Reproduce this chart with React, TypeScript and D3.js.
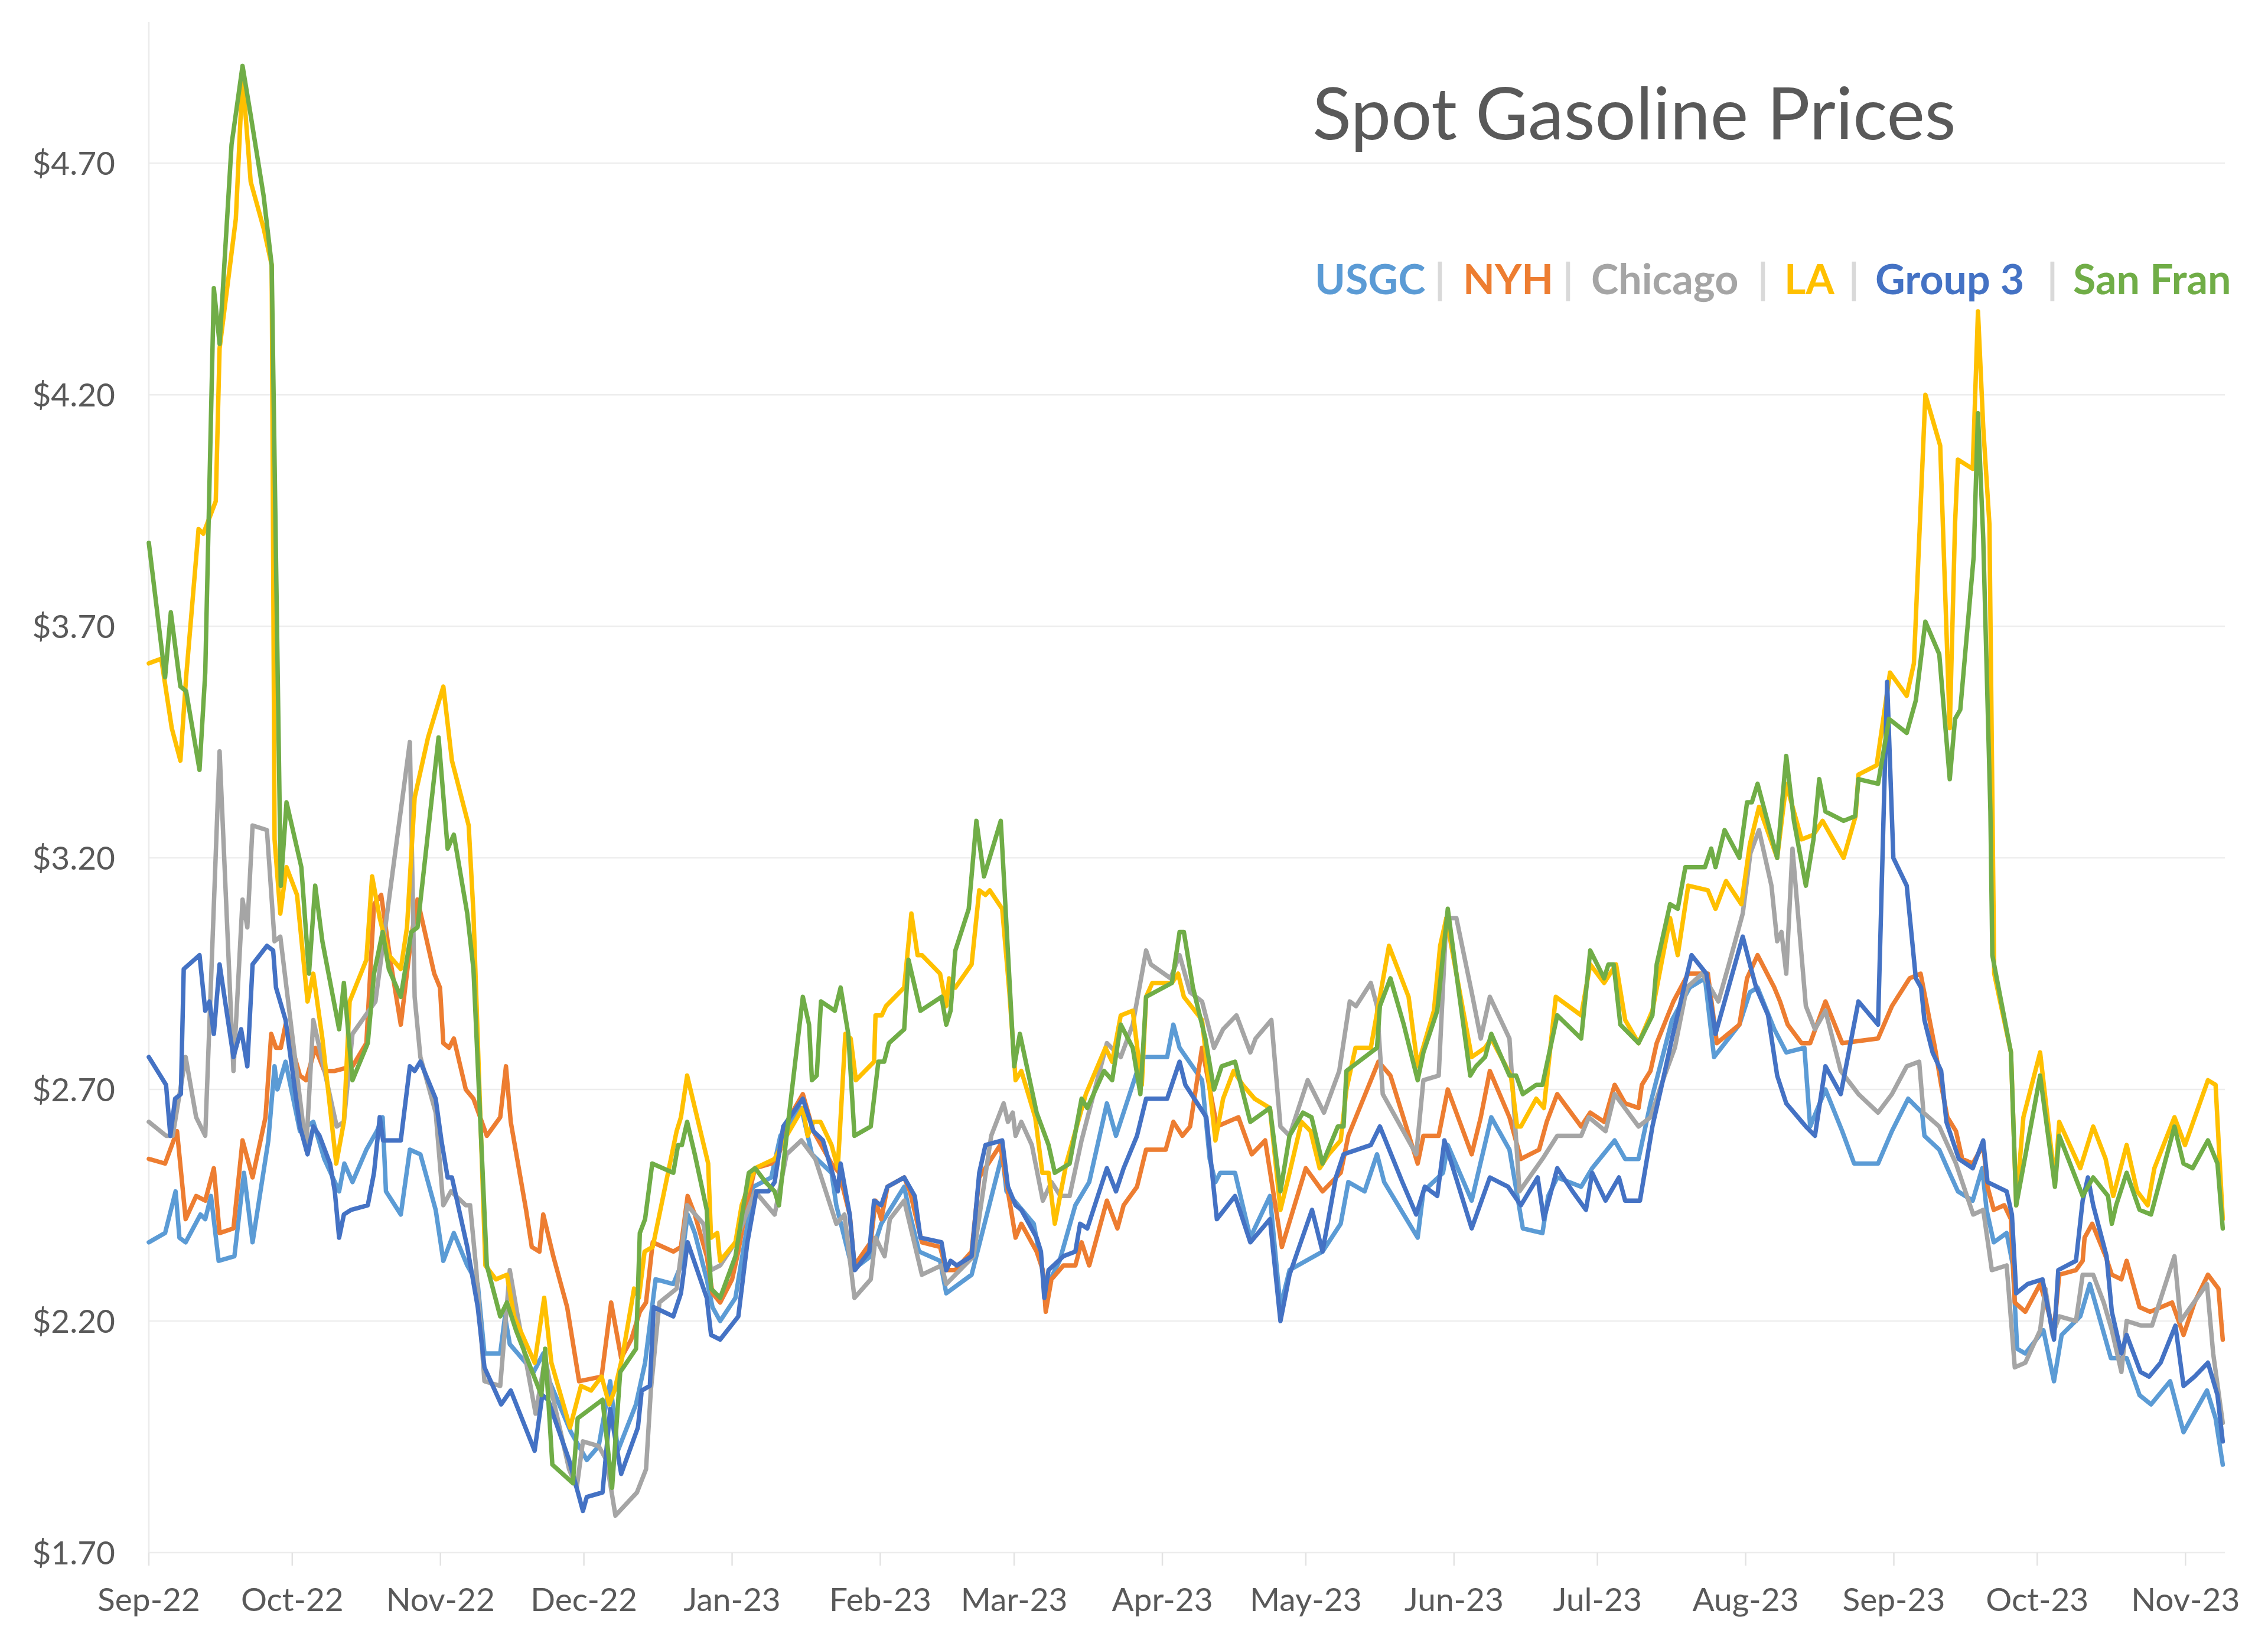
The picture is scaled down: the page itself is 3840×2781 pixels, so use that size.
import React from "react";
import * as d3 from "d3";

// ---------- data (day offset from 2022-09-01, price $/gal) ----------
const START_UTC = Date.UTC(2022, 8, 1);
const AXIS_END_DAY = 434; // 2023-11-09
const Y_MIN = 1.7;
const Y_MAX = 5.0;
const yTickValues = [1.7, 2.2, 2.7, 3.2, 3.7, 4.2, 4.7];
const titleText = "Spot Gasoline Prices";
const seriesNames = ["USGC", "NYH", "Chicago", "LA", "Group 3", "San Fran"];
const seriesColors = ["#5B9BD5", "#ED7D31", "#A5A5A5", "#FFC000", "#4472C4", "#70AD47"];

const USGC: [number, number][] = [
[0,2.37],[3.4,2.39],[5.6,2.48],[6.4,2.38],[7.7,2.37],[10.8,2.43],[11.8,2.42],[13,2.47],[14.6,2.33],[17.9,2.34],[19.9,2.52],[21.7,2.37],[25,2.59],[26.3,2.75],[26.9,2.7],[28.6,2.76],[31.6,2.61],[34.4,2.63],[36.7,2.55],[39.8,2.48],[40.9,2.54],[42.6,2.5],[45.5,2.57],[47.7,2.61],[48.9,2.64],[49.6,2.48],[52.7,2.43],[54.6,2.57],[56.8,2.56],[60,2.44],[61.6,2.33],[63.8,2.39],[66.6,2.32],[68.8,2.28],[70.2,2.13],[73.5,2.13],[74.5,2.21],[75.5,2.15],[80.5,2.09],[82.5,2.13],[83.8,2.07],[88.3,1.96],[91.6,1.9],[94.1,1.93],[96.5,2.07],[98.1,1.92],[101.9,2.02],[103.8,2.11],[106,2.29],[109.7,2.28],[111.3,2.32],[112.7,2.43],[114.2,2.39],[116.7,2.29],[117.9,2.23],[119.5,2.2],[122.7,2.25],[124.6,2.37],[126.5,2.49],[130.2,2.51],[132.1,2.6],[136.5,2.66],[138.7,2.56],[142.8,2.52],[143.8,2.45],[147.2,2.31],[151,2.34],[153.2,2.41],[158,2.49],[159.2,2.43],[161.1,2.35],[165.5,2.33],[166.8,2.26],[172.1,2.3],[178.5,2.56],[179.4,2.48],[185.1,2.41],[187.6,2.27],[190.5,2.33],[193.8,2.45],[196.7,2.5],[200.4,2.67],[202.3,2.6],[207.7,2.77],[213,2.77],[214.3,2.84],[215.6,2.79],[220.3,2.72],[221.9,2.55],[223.1,2.5],[224.1,2.52],[227.2,2.52],[230.4,2.38],[234.5,2.47],[236.7,2.23],[238.6,2.31],[245.5,2.35],[249.3,2.41],[250.9,2.5],[254.3,2.48],[256.9,2.56],[258.4,2.5],[265.4,2.38],[266.6,2.48],[270.7,2.52],[271.7,2.58],[276.7,2.46],[280.8,2.64],[284.6,2.57],[287.4,2.4],[291.5,2.39],[292.7,2.47],[294.6,2.51],[299.6,2.49],[301.9,2.53],[306.6,2.59],[308.8,2.55],[311.6,2.55],[314.1,2.67],[318.6,2.85],[322.3,2.92],[325.5,2.94],[327.4,2.77],[332.7,2.84],[334.9,2.91],[336.5,2.92],[340,2.83],[342.5,2.78],[346.3,2.79],[347.5,2.62],[350.7,2.7],[354.2,2.61],[356.7,2.54],[361.7,2.54],[364.6,2.61],[368,2.68],[370.9,2.65],[371.4,2.6],[374.5,2.57],[376.2,2.53],[378.4,2.48],[381.5,2.46],[383.5,2.53],[384.4,2.44],[385.9,2.37],[388.6,2.39],[389.9,2.32],[390.8,2.14],[392.5,2.13],[396.3,2.18],[398.5,2.07],[400.1,2.17],[404,2.21],[406,2.28],[410.4,2.12],[413.7,2.12],[416.4,2.04],[418.8,2.02],[422.8,2.07],[425.6,1.96],[430.5,2.05],[432.3,1.99],[433.8,1.89]
];

const NYH: [number, number][] = [
[0,2.55],[3.4,2.54],[5.9,2.61],[7.7,2.42],[9.9,2.47],[11.8,2.46],[13.6,2.53],[14.8,2.39],[17.7,2.4],[19.6,2.59],[21.7,2.51],[24.4,2.64],[25.6,2.82],[26.6,2.79],[27.6,2.79],[28.6,2.84],[31.6,2.73],[32.9,2.72],[34.8,2.79],[36.7,2.74],[38.9,2.74],[42.6,2.75],[45.5,2.8],[47.1,3.1],[48.6,3.12],[50.5,2.98],[52.7,2.84],[54.9,3.03],[56.2,3.11],[59.7,2.95],[60.9,2.92],[61.6,2.8],[62.8,2.79],[63.8,2.81],[66.3,2.7],[67.9,2.68],[70.7,2.6],[73.5,2.64],[74.7,2.75],[75.7,2.63],[78.9,2.44],[80.1,2.36],[81.7,2.35],[82.5,2.43],[84.6,2.34],[87.5,2.23],[90,2.07],[94.7,2.08],[96.7,2.24],[98.8,2.12],[100.9,2.16],[102.7,2.22],[104,2.24],[105.4,2.37],[109.7,2.35],[111.3,2.36],[112.7,2.47],[114.2,2.43],[116.7,2.34],[117.9,2.26],[119.5,2.24],[122,2.29],[123.3,2.35],[125.2,2.46],[126.8,2.53],[130.2,2.54],[131.8,2.56],[134,2.64],[136.8,2.69],[139,2.61],[142.8,2.54],[144.4,2.52],[146.6,2.43],[147.6,2.32],[151,2.37],[152,2.46],[153.2,2.42],[154.5,2.49],[158,2.51],[159.2,2.48],[161.7,2.37],[165.5,2.36],[166.8,2.31],[168.7,2.31],[172.1,2.35],[173.7,2.51],[178.1,2.58],[179.7,2.48],[181.3,2.38],[182.5,2.41],[185.7,2.35],[187,2.31],[187.6,2.22],[188.8,2.29],[191.3,2.32],[193.8,2.32],[195.1,2.37],[196.7,2.32],[200.4,2.46],[202.6,2.4],[203.9,2.45],[206.7,2.49],[208.6,2.57],[212.7,2.57],[214.3,2.63],[216.2,2.6],[217.8,2.62],[220.3,2.79],[223.4,2.62],[227.9,2.64],[230.7,2.56],[233.5,2.59],[237,2.36],[242,2.53],[245.5,2.48],[249.3,2.52],[250.9,2.6],[257.2,2.76],[259.7,2.73],[265.4,2.54],[266.6,2.6],[269.8,2.6],[271.7,2.7],[276.7,2.56],[278.6,2.64],[280.5,2.74],[284.6,2.64],[287,2.55],[290.8,2.57],[292.4,2.63],[294.6,2.69],[299.6,2.62],[301.5,2.65],[304.4,2.63],[306.6,2.71],[308.8,2.67],[311.6,2.66],[312.3,2.71],[314.1,2.74],[315.4,2.8],[318.9,2.89],[322,2.95],[326.1,2.95],[328,2.8],[332.7,2.84],[334.3,2.94],[336.5,2.99],[340,2.92],[341.2,2.89],[342.8,2.84],[345.7,2.8],[347.5,2.8],[350.7,2.89],[354.2,2.8],[361.7,2.81],[364.6,2.88],[368.3,2.94],[370.6,2.95],[373.6,2.79],[374.9,2.71],[376.2,2.64],[378,2.61],[379.3,2.55],[381.5,2.54],[383.7,2.58],[384.6,2.49],[385.9,2.44],[388.1,2.45],[389.5,2.42],[390.3,2.24],[392.5,2.22],[395.6,2.28],[398.5,2.18],[399.6,2.3],[403.1,2.31],[404.5,2.33],[404.9,2.38],[406.5,2.41],[409.3,2.34],[410.6,2.3],[412.6,2.29],[413.7,2.33],[416.4,2.23],[418.6,2.22],[423.2,2.24],[425.6,2.17],[427.9,2.24],[430.7,2.3],[432.9,2.27],[433.8,2.16]
];

const CHICAGO: [number, number][] = [
[0,2.63],[3.6,2.6],[5,2.6],[7.7,2.77],[9.9,2.64],[11.8,2.6],[14.8,3.43],[17.7,2.74],[19.6,3.11],[20.6,3.05],[21.7,3.27],[24.7,3.26],[26.3,3.02],[27.5,3.03],[32.9,2.57],[34.4,2.85],[39.3,2.62],[40.8,2.63],[42.6,2.82],[47.4,2.89],[54.6,3.45],[55.6,2.9],[56.8,2.77],[60,2.65],[61.6,2.45],[63.2,2.48],[66.3,2.45],[67.2,2.45],[68.5,2.31],[70.2,2.07],[73.5,2.06],[75.5,2.31],[77,2.22],[80.9,2.0],[82.9,2.12],[84.4,2.04],[87.9,1.88],[89.5,1.84],[90.8,1.94],[94.1,1.93],[95.7,1.9],[97.6,1.78],[102.1,1.83],[104,1.88],[105,2.05],[106.8,2.24],[110.4,2.27],[112.6,2.45],[116,2.41],[117.6,2.31],[119.5,2.32],[122.7,2.37],[126.8,2.48],[130.9,2.43],[133.4,2.56],[136.5,2.59],[139.4,2.55],[143.8,2.41],[145.5,2.43],[147.6,2.25],[151,2.29],[152,2.38],[153.9,2.34],[155,2.42],[158,2.46],[161.7,2.3],[165.8,2.32],[166.8,2.28],[172.5,2.34],[176.2,2.6],[178.8,2.67],[179.7,2.63],[180.7,2.65],[181.3,2.6],[182.5,2.63],[184.7,2.58],[187,2.46],[188.8,2.5],[190.7,2.47],[192.6,2.47],[195.1,2.59],[200.4,2.8],[203.3,2.77],[205.8,2.84],[208.6,3.0],[209.6,2.97],[213.7,2.94],[215.6,2.99],[217.8,2.91],[220.3,2.89],[222.8,2.79],[224.7,2.83],[227.5,2.86],[230.4,2.78],[231.5,2.81],[234.8,2.85],[236.7,2.62],[238.6,2.6],[242.4,2.72],[245.8,2.65],[249,2.74],[251.2,2.89],[252.5,2.88],[255.6,2.93],[256.9,2.88],[258.1,2.69],[265.1,2.56],[266.6,2.72],[269.8,2.73],[271.4,3.07],[273.5,3.07],[276.7,2.91],[278.6,2.81],[280.5,2.9],[284.6,2.81],[286.7,2.48],[291.5,2.55],[294.6,2.6],[299.6,2.6],[301.2,2.64],[304.7,2.61],[306.6,2.69],[311.6,2.62],[314.1,2.64],[316.7,2.72],[319.2,2.79],[321.7,2.92],[324.9,2.95],[328.3,2.89],[330.5,2.97],[333.4,3.08],[335,3.21],[336.8,3.26],[339.4,3.14],[340.6,3.02],[341.5,3.04],[342.5,2.95],[343.8,3.22],[346.6,2.88],[348.5,2.83],[350.7,2.87],[353.9,2.74],[357.6,2.69],[361.7,2.65],[364.6,2.69],[367.7,2.75],[370.3,2.76],[371.2,2.65],[374.5,2.62],[378,2.54],[381.6,2.43],[383.7,2.44],[385.5,2.31],[388.6,2.32],[390.3,2.1],[392.5,2.11],[395.6,2.18],[396.7,2.27],[398.2,2.17],[399.6,2.21],[403.1,2.2],[404.5,2.3],[406.7,2.3],[408.9,2.24],[410.6,2.18],[412.6,2.09],[413.7,2.2],[416.8,2.19],[419,2.19],[423.7,2.34],[425,2.2],[430.5,2.28],[431.8,2.13],[433.8,1.98]
];

const LA: [number, number][] = [
[0,3.62],[2.6,3.63],[4.8,3.48],[6.6,3.41],[7.8,3.59],[10.4,3.91],[11.4,3.9],[14,3.97],[14.8,4.3],[18.2,4.58],[19.6,4.89],[21.3,4.66],[24,4.56],[25.7,4.48],[26.3,3.24],[27.5,3.08],[28.8,3.18],[31,3.12],[33.2,2.89],[34.4,2.95],[36.3,2.81],[39.2,2.54],[40.8,2.63],[42,2.89],[45.5,2.98],[46.7,3.16],[48.3,3.07],[50.2,2.99],[52.7,2.96],[54,3.05],[55.6,3.33],[58.4,3.46],[61.6,3.57],[63.4,3.41],[66.9,3.27],[67.9,3.08],[70.4,2.32],[72.6,2.29],[74.9,2.3],[76.4,2.21],[80.7,2.11],[82.7,2.25],[84.2,2.11],[88.1,1.97],[90.4,2.06],[92.5,2.05],[94.7,2.08],[96.3,2.02],[97.4,2.05],[99,2.12],[101.5,2.27],[102.5,2.25],[103.7,2.35],[105.4,2.36],[110.4,2.61],[111.3,2.64],[112.6,2.73],[117,2.54],[117.6,2.38],[118.9,2.39],[119.5,2.33],[122.7,2.37],[124,2.45],[126.8,2.53],[130.9,2.55],[133.4,2.6],[136.8,2.66],[137.8,2.6],[139,2.63],[140.5,2.63],[142.8,2.58],[144.1,2.53],[145.7,2.82],[146.8,2.81],[147.9,2.72],[151.7,2.76],[152,2.86],[153.3,2.86],[154.2,2.88],[158,2.92],[159.5,3.08],[160.8,2.99],[161.7,2.99],[165.5,2.95],[166.8,2.88],[167.4,2.94],[168.7,2.92],[172.1,2.97],[173.7,3.13],[175,3.12],[175.9,3.13],[178.5,3.09],[180,2.91],[181.3,2.72],[182.5,2.74],[185.4,2.64],[186.9,2.52],[188.2,2.52],[189.5,2.41],[191.9,2.54],[196,2.69],[200.1,2.79],[201.5,2.76],[203.3,2.86],[205.8,2.87],[207.7,2.71],[208.6,2.9],[209.9,2.93],[214,2.93],[215.3,2.95],[216.5,2.9],[220.3,2.85],[223.1,2.59],[224.7,2.68],[226.9,2.74],[228.8,2.71],[231.3,2.68],[234.5,2.66],[236.7,2.44],[238.6,2.52],[241.1,2.63],[243,2.61],[244.9,2.53],[246.8,2.56],[249.3,2.59],[250.5,2.7],[252.4,2.79],[255.6,2.79],[259.4,3.01],[263.5,2.9],[265.4,2.75],[268.8,2.87],[270.1,3.01],[271.4,3.07],[273.5,2.95],[276.7,2.77],[279.5,2.79],[280.8,2.81],[284.9,2.73],[286.2,2.62],[287,2.62],[290.2,2.68],[291.8,2.66],[294.3,2.9],[299.6,2.86],[301.5,2.97],[304.4,2.93],[306.9,2.97],[308.8,2.85],[311.6,2.8],[314.5,2.87],[318.2,3.07],[319.8,2.99],[322,3.14],[326.1,3.13],[327.7,3.09],[329.9,3.15],[333.1,3.1],[334.9,3.23],[336.8,3.31],[340.6,3.2],[342.5,3.36],[345.7,3.24],[348.2,3.25],[350.1,3.28],[354.5,3.2],[357,3.29],[357.6,3.38],[361.4,3.4],[364.2,3.6],[367.7,3.55],[369.2,3.62],[371.6,4.2],[374.7,4.09],[376.7,3.48],[377.8,3.92],[378.4,4.06],[381.5,4.04],[382.6,4.38],[383.7,4.13],[385,3.92],[386,2.95],[389.5,2.78],[390.6,2.45],[392.1,2.64],[395.6,2.78],[398.7,2.5],[399.6,2.63],[404,2.53],[406.7,2.62],[409.3,2.55],[410.9,2.47],[413.7,2.58],[415.9,2.48],[418.1,2.45],[419.5,2.53],[423.7,2.64],[425.9,2.58],[430.7,2.72],[432.3,2.71],[433.8,2.42]
];

const GROUP3: [number, number][] = [
[0,2.77],[3.6,2.71],[4.5,2.6],[5.5,2.68],[6.7,2.69],[7.3,2.96],[10.6,2.99],[11.8,2.87],[12.7,2.89],[13.6,2.82],[14.8,2.97],[17.7,2.77],[19.3,2.83],[20.6,2.75],[21.7,2.97],[24.7,3.01],[26,3.0],[26.6,2.92],[28.6,2.85],[31.6,2.62],[33.2,2.56],[34.4,2.62],[35.7,2.6],[37.9,2.54],[38.9,2.48],[39.8,2.38],[40.8,2.43],[42.3,2.44],[45.8,2.45],[47.1,2.52],[48.3,2.64],[49,2.59],[52.7,2.59],[54.6,2.75],[55.6,2.74],[56.8,2.76],[60,2.68],[61.2,2.59],[62.5,2.51],[63.4,2.51],[66.6,2.36],[68.8,2.23],[70.2,2.1],[73.7,2.02],[75.7,2.05],[80.7,1.92],[82.3,2.04],[83.5,2.03],[87.9,1.9],[90.8,1.79],[91.6,1.82],[94.9,1.83],[96.5,2.01],[98.8,1.87],[102.3,1.97],[103.1,2.05],[104.8,2.06],[105.6,2.23],[109.7,2.21],[111.3,2.26],[112.7,2.37],[116.7,2.25],[117.6,2.17],[119.5,2.16],[123.3,2.21],[125.2,2.37],[127.1,2.48],[129.6,2.48],[130.9,2.5],[132.7,2.62],[136.8,2.68],[139,2.61],[141,2.59],[144.1,2.48],[144.7,2.54],[146.6,2.43],[147.7,2.31],[150.7,2.35],[151.7,2.46],[153.2,2.45],[154.5,2.49],[158,2.51],[160.2,2.47],[161.4,2.38],[165.8,2.37],[166.8,2.31],[167.7,2.33],[169,2.32],[172.1,2.34],[173.7,2.52],[175,2.58],[178.5,2.59],[179.7,2.49],[181.3,2.45],[182.5,2.44],[185.7,2.38],[186.6,2.35],[187.3,2.25],[188.2,2.31],[191.3,2.34],[193.8,2.35],[194.8,2.41],[196.3,2.4],[200.4,2.53],[202.3,2.48],[203.9,2.53],[206.7,2.6],[208.6,2.68],[213,2.68],[215.6,2.76],[216.8,2.71],[221.2,2.64],[223.4,2.42],[227.2,2.47],[230.4,2.37],[234.5,2.42],[236.7,2.2],[238.6,2.3],[243.3,2.44],[245.5,2.35],[248.3,2.51],[249.9,2.56],[255.6,2.58],[257.5,2.62],[262.2,2.5],[265.1,2.43],[266.9,2.49],[269.5,2.47],[271,2.59],[276.7,2.4],[280.5,2.51],[284.3,2.49],[287,2.45],[290.5,2.51],[291.8,2.42],[294.6,2.53],[297.8,2.48],[300.6,2.44],[301.9,2.52],[304.7,2.46],[307.5,2.51],[308.8,2.46],[311.9,2.46],[314.5,2.62],[316.7,2.72],[318.6,2.81],[322.7,2.99],[325.8,2.95],[327.7,2.82],[333.4,3.03],[334.9,2.97],[336.2,2.92],[338.7,2.86],[340.6,2.73],[342.5,2.67],[346.6,2.62],[348.5,2.6],[350.7,2.75],[353.9,2.69],[357.6,2.89],[361.7,2.84],[363.6,3.58],[364.9,3.2],[367.7,3.14],[369.6,2.94],[370.7,2.92],[371.4,2.85],[373.1,2.78],[374.9,2.74],[376,2.63],[378.6,2.55],[381.5,2.53],[383.7,2.59],[384.6,2.5],[388.6,2.48],[389.7,2.43],[390.6,2.26],[393,2.28],[396.1,2.29],[398.5,2.16],[399.4,2.31],[403.1,2.33],[404.5,2.46],[405.6,2.51],[406.7,2.45],[409.5,2.34],[410.6,2.22],[412.6,2.13],[413.7,2.17],[416.6,2.09],[418.4,2.08],[420.8,2.11],[423.9,2.19],[425.6,2.06],[427.9,2.08],[430.7,2.11],[432.7,2.04],[433.8,1.94]
];

const SAN_FRAN: [number, number][] = [
[0,3.88],[3.4,3.59],[4.6,3.73],[6.6,3.57],[7.8,3.56],[10.6,3.39],[11.8,3.6],[13.6,4.43],[14.8,4.31],[17.3,4.74],[19.6,4.91],[21.2,4.81],[24,4.63],[25.7,4.48],[27.6,3.14],[28.8,3.32],[31.9,3.18],[33.5,2.95],[34.8,3.14],[36.3,3.02],[39.8,2.83],[40.8,2.93],[42.6,2.72],[45.8,2.8],[47.1,2.95],[48.9,3.04],[50.2,2.96],[52.7,2.9],[54.9,3.04],[56.2,3.05],[60.6,3.46],[62.5,3.22],[63.8,3.25],[66.6,3.08],[67.9,2.96],[70.7,2.32],[73.5,2.21],[74.9,2.24],[76.8,2.18],[82.1,2.04],[82.9,2.14],[84.4,1.89],[88.7,1.85],[89.7,1.99],[94.9,2.03],[96.9,1.84],[98.6,2.09],[101.9,2.14],[102.7,2.39],[103.8,2.42],[105.3,2.54],[109.7,2.52],[110.7,2.58],[111.5,2.58],[112.6,2.63],[114.2,2.56],[116.7,2.44],[117.6,2.27],[119.5,2.25],[122.7,2.34],[125.5,2.52],[126.8,2.53],[129,2.5],[130.9,2.48],[131.8,2.45],[133.4,2.6],[136.8,2.9],[138.1,2.84],[138.7,2.72],[139.7,2.73],[140.6,2.89],[143.5,2.87],[144.7,2.92],[146.3,2.82],[147.6,2.6],[151,2.62],[152.6,2.76],[153.8,2.76],[154.8,2.8],[158,2.83],[158.9,2.98],[161.4,2.87],[165.8,2.9],[166.8,2.84],[167.7,2.87],[168.7,3.0],[171.5,3.09],[173.1,3.28],[174.7,3.16],[178.2,3.28],[181,2.75],[182.2,2.82],[185.7,2.65],[188.2,2.58],[189.5,2.52],[192.6,2.54],[195.1,2.68],[196.3,2.66],[199.8,2.74],[201.5,2.72],[203.3,2.84],[205.8,2.79],[207.4,2.69],[208.6,2.9],[214,2.93],[215.6,3.04],[216.5,3.04],[218.4,2.92],[221,2.81],[222.8,2.7],[224.4,2.75],[227.2,2.76],[230.4,2.63],[234.5,2.66],[236.7,2.48],[238.6,2.6],[241.4,2.65],[243.2,2.64],[245.5,2.54],[248.7,2.62],[249.9,2.62],[250.5,2.74],[256.9,2.79],[257.5,2.88],[259.7,2.94],[262.5,2.84],[265.4,2.72],[266.6,2.78],[269.5,2.87],[271.7,3.09],[273.5,2.95],[276.4,2.73],[277.6,2.75],[279.5,2.77],[280.8,2.82],[284.6,2.73],[286,2.73],[287.4,2.69],[290.2,2.71],[291.5,2.71],[294.6,2.86],[299.6,2.81],[301.5,3.0],[304.4,2.94],[305.3,2.97],[306.4,2.97],[307.8,2.84],[311.6,2.8],[314.5,2.86],[315.4,2.97],[318.2,3.1],[319.8,3.09],[321.4,3.18],[325.5,3.18],[326.8,3.22],[327.7,3.18],[329.6,3.26],[332.7,3.2],[334.3,3.32],[335.3,3.32],[336.5,3.36],[340.6,3.2],[342.5,3.42],[344.1,3.28],[346.6,3.14],[348.2,3.24],[349.4,3.37],[350.7,3.3],[354.5,3.28],[356.9,3.29],[357.6,3.37],[361.7,3.36],[364,3.5],[367.7,3.47],[369.6,3.54],[371.6,3.71],[374.5,3.64],[376.7,3.37],[377.8,3.5],[378.9,3.52],[381.7,3.85],[382.6,4.16],[383.7,3.89],[385.2,3.3],[385.6,2.99],[389.5,2.78],[390.6,2.45],[395.6,2.73],[398.7,2.49],[399.6,2.6],[404.5,2.47],[406.7,2.51],[409.8,2.47],[410.6,2.41],[411.5,2.45],[413.7,2.52],[416.4,2.44],[418.8,2.43],[423.7,2.62],[425.6,2.54],[427.5,2.53],[430.7,2.59],[432.7,2.54],[433.8,2.4]
];

const seriesData = [USGC, NYH, CHICAGO, LA, GROUP3, SAN_FRAN];

// ---------- layout ----------
const W = 3840;
const H = 2781;
const PLOT = { left: 252, right: 3765, top: 41, bottom: 2628, gridRight: 3767 };
const FONT = "Lato, 'Open Sans', 'DejaVu Sans', sans-serif";
const TEXT_GRAY = "#595959";
const LEGEND_X = [2226, 2477, 2694, 3021, 3175, 3510];
const LEGEND_SEP_X = [2438, 2655, 2985, 3139, 3475];

const DAY_MS = 86400000;
const dayToDate = (d: number) => new Date(START_UTC + d * DAY_MS);

export default function App() {
  const x = d3
    .scaleUtc()
    .domain([dayToDate(0), dayToDate(AXIS_END_DAY)])
    .range([PLOT.left, PLOT.right]);
  const y = d3.scaleLinear().domain([Y_MIN, Y_MAX]).range([PLOT.bottom, PLOT.top]);

  const line = d3
    .line<[number, number]>()
    .x((p) => x(dayToDate(p[0])))
    .y((p) => y(p[1]));

  const months = d3.utcMonth.range(dayToDate(0), new Date(dayToDate(AXIS_END_DAY).getTime() + 1));
  const fmtMonth = d3.utcFormat("%b-%y");

  return (
    <div style={{ position: "absolute", left: 0, top: 0, width: W, height: H, background: "#fff" }}>
      <svg width={W} height={H} viewBox={`0 0 ${W} ${H}`} style={{ display: "block" }}>
        <rect x={0} y={0} width={W} height={H} fill="#ffffff" />

        {/* horizontal gridlines */}
        {yTickValues.map((v) => (
          <line
            key={"g" + v}
            x1={PLOT.left}
            x2={PLOT.gridRight}
            y1={y(v)}
            y2={y(v)}
            stroke="#EDEDED"
            strokeWidth={2.5}
          />
        ))}

        {/* vertical axis line */}
        <line x1={PLOT.left} x2={PLOT.left} y1={PLOT.top - 4} y2={PLOT.bottom} stroke="#EBEBEB" strokeWidth={2.5} />

        {/* x-axis tick marks */}
        {months.map((m) => (
          <line
            key={"t" + m.getTime()}
            x1={x(m)}
            x2={x(m)}
            y1={PLOT.bottom}
            y2={PLOT.bottom + 22}
            stroke="#E3E3E3"
            strokeWidth={2.5}
          />
        ))}

        {/* y labels */}
        {yTickValues.map((v) => (
          <text
            key={"yl" + v}
            x={195}
            y={y(v)}
            dy="0.36em"
            textAnchor="end"
            fontFamily={FONT}
            fontSize={55}
            fill={TEXT_GRAY}
          >
            {"$" + v.toFixed(2)}
          </text>
        ))}

        {/* x labels */}
        {months.map((m) => (
          <text
            key={"xl" + m.getTime()}
            x={x(m)}
            y={2727}
            textAnchor="middle"
            fontFamily={FONT}
            fontSize={55}
            fill={TEXT_GRAY}
          >
            {fmtMonth(m)}
          </text>
        ))}

        {/* series */}
        {seriesData.map((data, i) => (
          <path
            key={seriesNames[i]}
            d={line(data) || ""}
            fill="none"
            stroke={seriesColors[i]}
            strokeWidth={7.5}
            strokeLinejoin="round"
            strokeLinecap="round"
          />
        ))}

        {/* title */}
        <text x={2222} y={236} fontFamily={FONT} fontSize={122} fill={TEXT_GRAY}>
          {titleText}
        </text>

        {/* legend */}
        {seriesNames.map((name, i) => (
          <text
            key={"lg" + name}
            x={LEGEND_X[i]}
            y={498}
            fontFamily={FONT}
            fontWeight={700}
            fontSize={70}
            fill={seriesColors[i]}
          >
            {name}
          </text>
        ))}
        {LEGEND_SEP_X.map((sx, i) => (
          <text
            key={"sep" + i}
            x={sx}
            y={498}
            textAnchor="middle"
            fontFamily={FONT}
            fontWeight={700}
            fontSize={70}
            fill="#D9D9D9"
          >
            |
          </text>
        ))}
      </svg>
    </div>
  );
}
